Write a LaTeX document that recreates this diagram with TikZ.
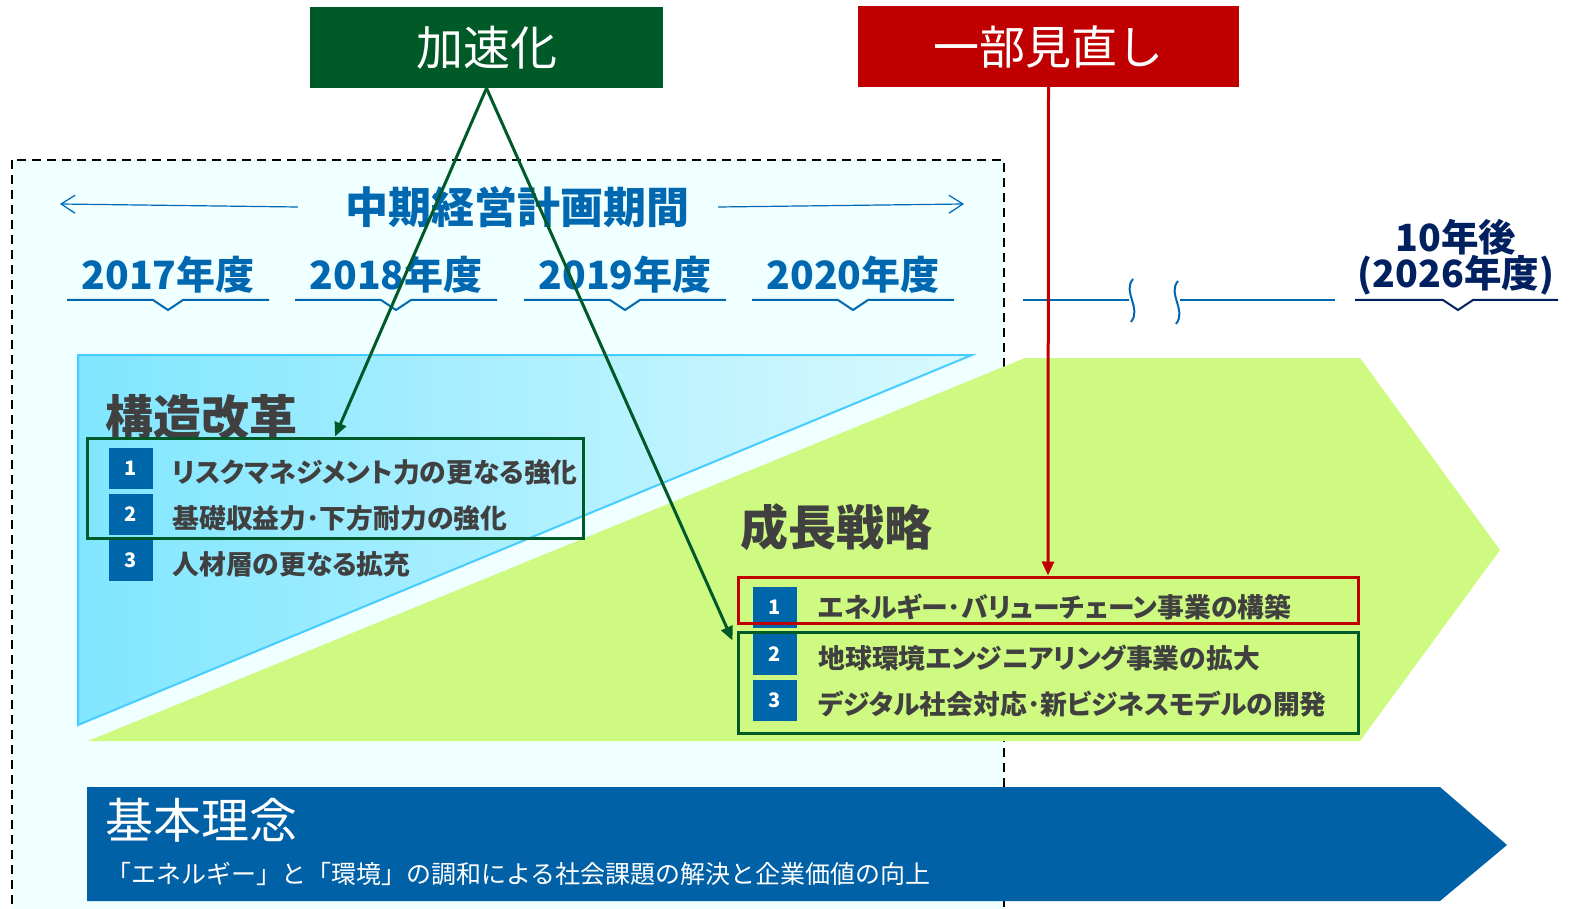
\documentclass[tikz,border=0pt]{standalone}
\usepackage{fontspec}
\setmainfont{Noto Sans CJK JP}
\newfontfamily\jpp{Noto Sans CJK JP}[RawFeature=+palt]
\usetikzlibrary{arrows.meta,calc,positioning}
\definecolor{accgreen}{RGB}{0,90,40}
\definecolor{revred}{RGB}{192,0,0}
\definecolor{planblue}{RGB}{0,104,176}
\definecolor{navy}{RGB}{0,32,96}
\definecolor{numblue}{RGB}{0,102,170}
\definecolor{itemgray}{RGB}{64,64,64}
\definecolor{paleazure}{RGB}{240,255,255}
\definecolor{lime}{RGB}{206,250,130}
\definecolor{cyanL}{RGB}{128,230,255}
\definecolor{cyanR}{RGB}{218,249,255}
\definecolor{cyanedge}{RGB}{70,205,255}
\definecolor{baseblue}{RGB}{0,97,166}

\begin{document}
\begin{tikzpicture}[x=1pt,y=-1pt,
  headbox/.style={minimum width=353,minimum height=81,inner sep=0,text=white,font=\fontsize{47}{50}\selectfont},
  numsq/.style={fill=numblue,text=white,minimum width=44,minimum height=41,inner sep=0,font=\bfseries\fontsize{20}{24}\selectfont},
  item/.style={text=itemgray,inner sep=0,yshift=-4pt,font=\jpp\bfseries\fontsize{26.8}{30}\selectfont},
  frame/.style={draw,line width=3,minimum width=620,inner sep=0},
  yearlbl/.style={text=planblue,inner sep=0,font=\bfseries\fontsize{39}{40}\selectfont},
  gline/.style={accgreen,line width=3,-{Triangle[length=14,width=12]}},
  thin/.style={planblue,line width=1.2,-{Straight Barb[length=14,width=18]}}]
  \useasboundingbox (0,0) rectangle (1569,909);

  % period frame
  \draw[line width=1.8,dash pattern=on 9 off 6,fill=paleazure] (12,160) rectangle (1004,930);

  % restructuring triangle
  \path[left color=cyanL,right color=cyanR] (78,355) -- (972,355) -- (78,725) -- cycle;
  \draw[cyanedge,line width=2] (78,725) -- (78,355) -- (972,355) -- cycle;
  % growth pentagon
  \fill[lime] (88,741) -- (1025,358) -- (1360,358) -- (1500,550) -- (1360,741) -- cycle;
  % basic philosophy arrow
  \fill[baseblue] (87,787) -- (1440,787) -- (1507,845) -- (1440,901) -- (87,901) -- cycle;

  % period title and years
  \node[text=planblue,inner sep=0,font=\bfseries\fontsize{43}{46}\selectfont] (plan) at (517,207) {中期経営計画期間};
  \coordinate (pl) at (60,204);
  \coordinate (pr) at (964,204);
  \draw[thin] ($(plan.west)+(-47,0)$) -- (pl);
  \draw[thin] ($(plan.east)+(29,0)$) -- (pr);
  \foreach \yr/\cx in {2017/168,2018/396,2019/625,2020/853}{
    \node[yearlbl] (y\yr) at (\cx,275) {\yr 年度};
    \draw[planblue,line width=2] ({\cx-101},300) -- ({\cx-15},300) -- (\cx,310) -- ({\cx+15},300) -- ({\cx+101},300);
  }
  \draw[planblue,line width=2] (1023,300) -- (1129,300);
  \draw[planblue,line width=2] (1133,279) .. controls (1122,292) and (1142,308) .. (1131,322);
  \draw[planblue,line width=2] (1178,281) .. controls (1167,294) and (1187,310) .. (1176,324);
  \draw[planblue,line width=2] (1180,300) -- (1335,300);
  \node[yearlbl,text=navy,align=center,font=\bfseries\fontsize{37.5}{36}\selectfont] (y2026) at (1456,257) {10年後\\(2026年度)};
  \draw[navy,line width=2] (1355,300) -- (1443,300) -- (1458,310) -- (1473,300) -- (1558,300);

  % restructuring items
  \node[anchor=west,inner sep=0,text=itemgray,font=\bfseries\fontsize{48}{50}\selectfont] (kozo) at (105,417) {構造改革};
  \node[numsq] (s1) at (131,468) {1};
  \node[numsq] (s2) at (131,514) {2};
  \node[numsq] (s3) at (131,560) {3};
  \node[item,right=19pt of s1] (t1) {リスクマネジメント力の更なる強化};
  \node[item,right=19pt of s2] (t2) {基礎収益力･下方耐力の強化};
  \node[item,right=19pt of s3] (t3) {人材層の更なる拡充};
  \node[frame,accgreen,minimum width=496,minimum height=100] (kframe) at (335,488) {};

  % growth items
  \node[anchor=west,inner sep=0,text=itemgray,font=\bfseries\fontsize{48}{50}\selectfont] (seicho) at (740,527) {成長戦略};
  \node[numsq] (g1) at (775,607) {1};
  \node[numsq] (g2) at (775,654) {2};
  \node[numsq] (g3) at (775,700) {3};
  \node[item,right=21pt of g1,yshift=4pt] (u1) {エネルギー･バリューチェーン事業の構築};
  \node[item,right=21pt of g2] (u2) {地球環境エンジニアリング事業の拡大};
  \node[item,right=21pt of g3] (u3) {デジタル社会対応･新ビジネスモデルの開発};
  \node[frame,revred,minimum height=46] (rframe) at (1048,600) {};
  \node[frame,accgreen,minimum height=101] (gframe) at (1048,682.5) {};

  % basic philosophy
  \node[anchor=west,inner sep=0,text=white,font=\fontsize{48}{50}\selectfont] (kihon) at (105,820) {基本理念};
  \node[anchor=west,inner sep=0,text=white,font=\fontsize{25}{30}\selectfont] (rinen) at (106,874) {「エネルギー」と「環境」の調和による社会課題の解決と企業価値の向上};

  % accelerate / partial review
  \node[headbox,fill=accgreen] (accel) at (486.5,47.5) {加速化};
  \node[headbox,fill=revred,minimum width=381,font=\fontsize{46}{50}\selectfont] (review) at (1048.5,46.5) {一部見直し};
  \coordinate (gin) at ($(gframe.north west)+(-4,10)$);
  \draw[gline] (accel.south) -- (kframe.north);
  \draw[gline] (accel.south) -- (gin);
  \draw[revred,line width=3,-{Triangle[length=14,width=12]}] (review.south) -- (rframe.north);
\end{tikzpicture}
\end{document}
